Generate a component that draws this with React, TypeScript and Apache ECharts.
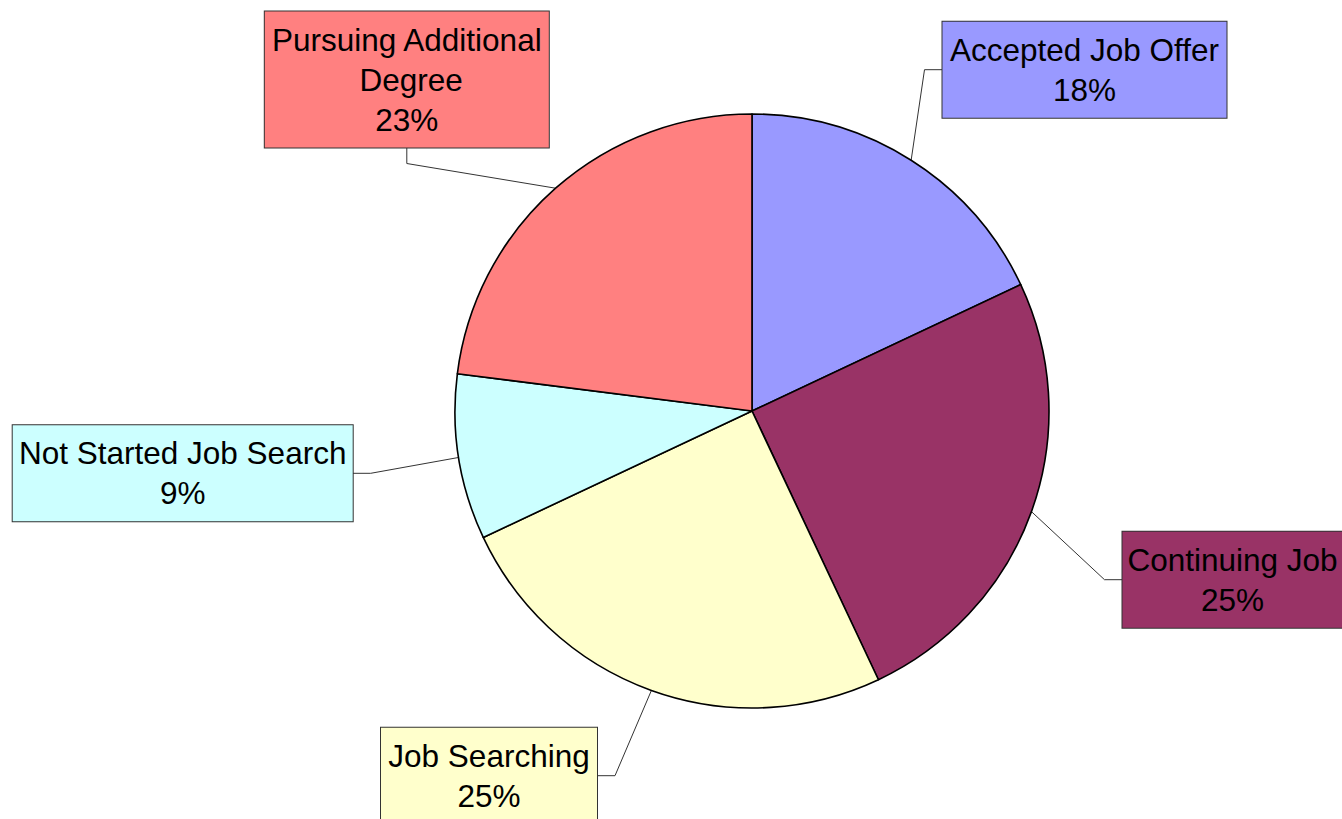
import React, { useEffect, useRef } from 'react';
import * as echarts from 'echarts';

const categories = [
  'Accepted Job Offer',
  'Continuing Job',
  'Job Searching',
  'Not Started Job Search',
  'Pursuing Additional Degree',
];
const values = [18, 25, 25, 9, 23];
const colors = ['#9999FF', '#993366', '#FFFFCC', '#CCFFFF', '#FF8080'];

// label box layout (centre, box width, side where the leader attaches)
const labelBoxes = [
  { cx: 1084.5, cy: 69.7, w: 284, h: 96, side: 'left' },
  { cx: 1232.5, cy: 579.7, w: 220, h: 96, side: 'left' },
  { cx: 489, cy: 775.7, w: 216, h: 96, side: 'right' },
  { cx: 182.7, cy: 473.3, w: 340, h: 96, side: 'right' },
  { cx: 406.8, cy: 79.5, w: 284, h: 136, side: 'bottom' },
];

const CENTER = [752, 411];
const RADIUS = 297;
const FONT = '"Liberation Sans", Arial, sans-serif';
const PAD_X = 4;

export default function App() {
  const ref = useRef<HTMLDivElement>(null);
  useEffect(() => {
    const chart = echarts.init(ref.current!, null, { renderer: 'svg' });
    const total = values.reduce((a, b) => a + b, 0);
    let acc = 0;
    const mids = values.map((v) => {
      const m = (acc + v / 2) / total;
      acc += v;
      return m;
    });
    chart.setOption({
      animation: false,
      backgroundColor: '#ffffff',
      series: [
        {
          type: 'pie',
          center: CENTER,
          radius: RADIUS,
          startAngle: 90,
          clockwise: true,
          avoidLabelOverlap: false,
          minShowLabelAngle: 0,
          silent: true,
          itemStyle: { borderColor: '#000000', borderWidth: 1.6 },
          label: {
            show: true,
            position: 'outside',
            formatter: (p: any) => `${p.name}\n${Math.round(p.percent)}%`,
            color: '#000000',
            fontFamily: FONT,
            fontSize: 31.5,
            lineHeight: 40,
            padding: [9, PAD_X, 7, PAD_X],
            borderColor: '#333333',
            borderWidth: 1,
            overflow: 'break',
            align: 'center',
          },
          labelLine: {
            show: true,
            length: 10,
            length2: 10,
            lineStyle: { color: '#333333', width: 1 },
          },
          emphasis: { disabled: true },
          labelLayout: (params: any) => {
            const i = params.dataIndex;
            const b = labelBoxes[i];
            const ang = mids[i] * Math.PI * 2;
            const start = [CENTER[0] + RADIUS * Math.sin(ang), CENTER[1] - RADIUS * Math.cos(ang)];
            let anchor: number[];
            let elbow: number[];
            if (b.side === 'left') {
              anchor = [b.cx - b.w / 2, b.cy];
              elbow = [anchor[0] - 18, b.cy];
            } else if (b.side === 'right') {
              anchor = [b.cx + b.w / 2, b.cy];
              elbow = [anchor[0] + 18, b.cy];
            } else {
              anchor = [b.cx, b.cy + b.h / 2];
              elbow = [b.cx, anchor[1] + 16];
            }
            return {
              x: b.cx,
              y: b.cy,
              align: 'center',
              verticalAlign: 'middle',
              labelLinePoints: [start, elbow, anchor],
            };
          },
          data: categories.map((name, i) => ({
            name,
            value: values[i],
            itemStyle: { color: colors[i] },
            label: { backgroundColor: colors[i], width: labelBoxes[i].w - 2 * PAD_X },
          })),
        },
      ],
    });
    return () => chart.dispose();
  }, []);
  return (
    <div
      ref={ref}
      style={{ position: 'fixed', left: 0, top: 0, width: 1342, height: 819 }}
    />
  );
}
